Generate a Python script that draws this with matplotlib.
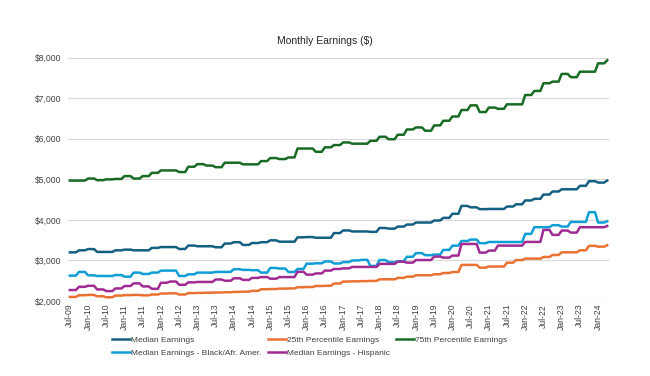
import numpy as np
import pandas as pd
import matplotlib
matplotlib.use("Agg")
import matplotlib.pyplot as plt

plt.rcParams['font.family'] = ['Liberation Sans', 'DejaVu Sans']

# quarterly values (Jul-09 ... Apr-24), each held for the 3 months of the quarter
n_months = 178
start = '2009-07-01'

median = [3200, 3250, 3280, 3210, 3210, 3250, 3267, 3250, 3250, 3310,
          3330, 3330, 3283, 3367, 3350, 3350, 3325, 3417, 3450, 3383,
          3430, 3450, 3496, 3463, 3463, 3570, 3577, 3560, 3560, 3675,
          3740, 3715, 3715, 3705, 3800, 3785, 3835, 3885, 3935, 3935,
          3985, 4050, 4150, 4345, 4310, 4265, 4270, 4270, 4330, 4385,
          4480, 4520, 4625, 4700, 4755, 4755, 4840, 4955, 4920, 4970]

p25 = [2100, 2142, 2150, 2117, 2092, 2133, 2145, 2150, 2140, 2160,
       2185, 2190, 2160, 2195, 2200, 2205, 2210, 2215, 2225, 2230,
       2250, 2290, 2295, 2305, 2310, 2340, 2345, 2370, 2375, 2430,
       2480, 2485, 2490, 2495, 2535, 2535, 2570, 2600, 2635, 2635,
       2660, 2690, 2715, 2890, 2890, 2823, 2850, 2850, 2945, 3010,
       3045, 3045, 3085, 3135, 3200, 3200, 3250, 3360, 3340, 3375]

p75 = [4970, 4970, 5020, 4980, 5000, 5010, 5080, 5020, 5080, 5160,
       5220, 5220, 5180, 5310, 5375, 5340, 5300, 5410, 5410, 5370,
       5370, 5450, 5525, 5500, 5540, 5760, 5760, 5680, 5790, 5845,
       5910, 5880, 5880, 5950, 6050, 5990, 6100, 6230, 6280, 6200,
       6330, 6445, 6550, 6710, 6825, 6660, 6770, 6740, 6850, 6850,
       7080, 7180, 7370, 7410, 7600, 7520, 7655, 7655, 7860, 7935]

black = [2625, 2717, 2633, 2617, 2617, 2640, 2600, 2700, 2667, 2700,
         2750, 2750, 2617, 2658, 2700, 2700, 2717, 2717, 2783, 2767,
         2760, 2700, 2815, 2800, 2715, 2790, 2920, 2930, 2975, 2925,
         2960, 3000, 3015, 2865, 3010, 2955, 2980, 3090, 3180, 3130,
         3145, 3260, 3365, 3480, 3515, 3425, 3455, 3455, 3455, 3455,
         3655, 3820, 3820, 3870, 3835, 3950, 3950, 4190, 3935, 3965]

hispanic = [2270, 2350, 2375, 2285, 2245, 2310, 2370, 2435, 2360, 2300,
            2450, 2480, 2400, 2460, 2470, 2470, 2530, 2500, 2560, 2520,
            2570, 2590, 2550, 2590, 2590, 2720, 2650, 2680, 2750, 2790,
            2805, 2840, 2840, 2840, 2915, 2915, 2970, 2946, 3010, 3010,
            3095, 3070, 3120, 3407, 3407, 3193, 3243, 3366, 3366, 3366,
            3457, 3457, 3753, 3630, 3737, 3687, 3819, 3819, 3819, 3850]

series = [
    ("Median Earnings", median, "#156082"),
    ("25th Percentile Earnings", p25, "#E97132"),
    ("75th Percentile Earnings", p75, "#196B24"),
    ("Median Earnings - Black/Afr. Amer.", black, "#0F9ED5"),
    ("Median Earnings - Hispanic", hispanic, "#A02B93"),
]

months = pd.date_range(start, periods=n_months, freq='MS')
x = np.arange(n_months)

fig = plt.figure(figsize=(6.5, 3.76), dpi=100)
ax = fig.add_axes([68 / 650, 1 - 301 / 376, 541 / 650, 243.3 / 376])

lines = {}
for label, q, color in series:
    y = np.repeat(q, 3)[:n_months]
    ln, = ax.plot(x, y, color=color, lw=1.8, label=label, solid_joinstyle='round')
    lines[label] = ln

ax.set_xlim(-0.6, n_months - 0.4)
ax.set_ylim(2000, 8000)
ax.set_yticks(range(2000, 8001, 1000))
ax.set_yticklabels([f'${v:,.0f}' for v in range(2000, 8001, 1000)])
ax.grid(axis='y', color='#D9D9D9', lw=0.9)
ax.set_axisbelow(True)

tick_pos = x[::6]
ax.set_xticks(tick_pos)
ax.set_xticklabels([months[i].strftime('%b-%y') for i in tick_pos], rotation=90)

for s in ax.spines.values():
    s.set_visible(False)
ax.tick_params(axis='both', length=0, labelsize=6.2, colors='#404040')
ax.tick_params(axis='y', pad=5)
ax.tick_params(axis='x', pad=2)

fig.text(0.5, 1 - 40.7 / 376, 'Monthly Earnings ($)', ha='center', va='center',
         fontsize=7.5, color='#262626')

# legend reads row by row: col order so ncol=3 fills like Excel
order = ["Median Earnings", "Median Earnings - Black/Afr. Amer.",
         "25th Percentile Earnings", "Median Earnings - Hispanic",
         "75th Percentile Earnings"]
fig.legend([lines[k] for k in order], order, loc='upper left',
           bbox_to_anchor=(112 / 650, 1 - 336 / 376), ncol=3, frameon=False,
           fontsize=6, handlelength=2.2, handletextpad=0.1, columnspacing=0.7,
           labelspacing=0.6, borderpad=0, borderaxespad=0, labelcolor='#404040')

fig.savefig('out.png', dpi=100)
